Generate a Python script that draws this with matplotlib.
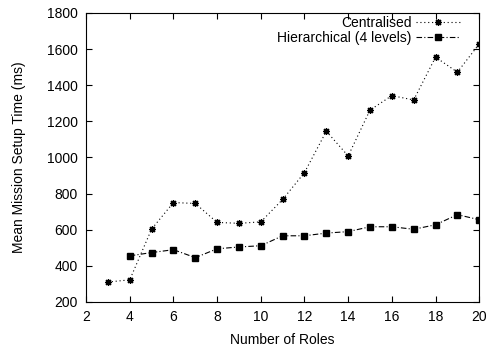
import matplotlib
matplotlib.use("Agg")
import matplotlib.pyplot as plt

plt.rcParams['font.family'] = ['Liberation Sans', 'DejaVu Sans']

# data
roles_central = [3, 4, 5, 6, 7, 8, 9, 10, 11, 12, 13, 14, 15, 16, 17, 18, 19, 20]
time_central = [310, 322, 603, 750, 745, 640, 635, 643, 767, 916, 1145, 1008,
                1262, 1342, 1318, 1555, 1472, 1628]

roles_hier = [4, 5, 6, 7, 8, 9, 10, 11, 12, 13, 14, 15, 16, 17, 18, 19, 20]
time_hier = [455, 473, 489, 445, 494, 504, 511, 566, 566, 581, 589, 616,
             616, 602, 627, 683, 655]

fig = plt.figure(figsize=(4.89, 3.49), dpi=100)
ax = fig.add_axes([0.176, 0.135, 0.804, 0.828])

ax.plot(roles_central, time_central, color='black', linestyle=(0, (1, 2.5)),
        linewidth=0.8, marker=(8, 2, 0), markersize=5, markeredgewidth=0.9,
        label='Centralised')
ax.plot(roles_hier, time_hier, color='black', linestyle=(0, (5, 2, 1, 2)),
        linewidth=0.8, marker='s', markersize=5, label='Hierarchical (4 levels)')

ax.set_xlim(2, 20)
ax.set_ylim(200, 1800)
ax.set_xticks(range(2, 21, 2))
ax.set_yticks(range(200, 1801, 200))
ax.tick_params(direction='in', top=True, right=True, labelsize=10, length=4)
ax.tick_params(axis='x', pad=6)
ax.tick_params(axis='y', pad=6)
ax.set_xlabel('Number of Roles', fontsize=10, labelpad=6)
ax.set_ylabel('Mean Mission Setup Time (ms)', fontsize=10, labelpad=15)

ax.legend(loc='upper right', frameon=False, markerfirst=False, fontsize=10,
          handlelength=3.2, handletextpad=0.3, labelspacing=0.1,
          borderpad=0, borderaxespad=0, bbox_to_anchor=(0.952, 0.99))

fig.savefig('out.png', dpi=100)
